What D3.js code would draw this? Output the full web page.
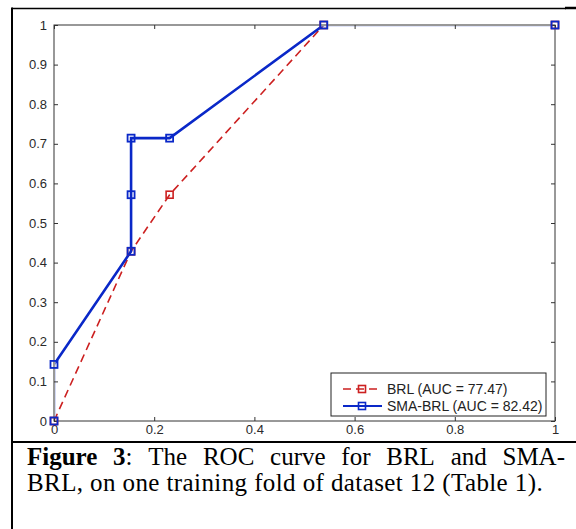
<!DOCTYPE html>
<html>
<head>
<meta charset="utf-8">
<script src="https://cdn.jsdelivr.net/npm/d3@7"></script>
<style>
  body { margin: 0; background: #fff; }
  svg { display: block; }
</style>
</head>
<body>
<script>
// ROC points (false positive rate, true positive rate)
var brlFpr = [0, 2/13, 3/13, 7/13, 1];
var brlTpr = [0, 3/7, 4/7, 1, 1];
var smaFpr = [0, 0, 2/13, 2/13, 2/13, 3/13, 7/13, 1];
var smaTpr = [0, 1/7, 3/7, 4/7, 5/7, 5/7, 1, 1];

var seriesNames = ["BRL (AUC = 77.47)", "SMA-BRL (AUC = 82.42)"];
var xTicks = [0, 0.2, 0.4, 0.6, 0.8, 1];
var yTicks = [0, 0.1, 0.2, 0.3, 0.4, 0.5, 0.6, 0.7, 0.8, 0.9, 1];

var svgWidth = 576;
var svgHeight = 529;

// plot area in page pixels
var margin = { top: 25, left: 54 };
var chartWidth = 501;
var chartHeight = 396;

var red = "#cc2020";
var blue = "#0a28c8";
var sans = "'Liberation Sans', Arial, sans-serif";

var svg = d3.select("body")
  .append("svg")
  .attr("width", svgWidth)
  .attr("height", svgHeight);

// page frame (table cell borders)
svg.append("line").attr("x1", 12).attr("x2", 566).attr("y1", 8.5).attr("y2", 8.5)
  .attr("stroke", "#000").attr("stroke-width", 1.5);
svg.append("line").attr("x1", 565).attr("x2", 576).attr("y1", 8).attr("y2", 8)
  .attr("stroke", "#000").attr("stroke-width", 2.5);
svg.append("line").attr("x1", 12).attr("x2", 12).attr("y1", 7.5).attr("y2", svgHeight)
  .attr("stroke", "#000").attr("stroke-width", 2);
svg.append("line").attr("x1", 12).attr("x2", svgWidth).attr("y1", 442).attr("y2", 442)
  .attr("stroke", "#000").attr("stroke-width", 2);

var chartGroup = svg.append("g")
  .attr("transform", `translate(${margin.left}, ${margin.top})`);

var x = d3.scaleLinear().domain([0, 1]).range([0, chartWidth]);
var y = d3.scaleLinear().domain([0, 1]).range([chartHeight, 0]);

// curves lying on the box edges get hidden under the axes, as in the original
svg.append("clipPath").attr("id", "plotClip")
  .append("rect").attr("x", 1.4).attr("y", 1.4)
  .attr("width", chartWidth - 2.8).attr("height", chartHeight - 2.8);

var drawLine = d3.line()
  .x(d => x(d[0]))
  .y(d => y(d[1]));

var brlData = brlFpr.map((v, i) => [v, brlTpr[i]]);
var smaData = smaFpr.map((v, i) => [v, smaTpr[i]]);

var lines = chartGroup.append("g").attr("clip-path", "url(#plotClip)");

lines.append("path")
  .attr("d", drawLine(brlData))
  .attr("fill", "none")
  .attr("stroke", red)
  .attr("stroke-width", 1.6)
  .attr("stroke-dasharray", "8,5");

lines.append("path")
  .attr("d", drawLine(smaData))
  .attr("fill", "none")
  .attr("stroke", blue)
  .attr("stroke-width", 2.6);

// style tick labels / tick lines of an axis group
function styleAxis(g) {
  g.select(".domain").remove();
  g.selectAll(".tick line").attr("stroke", "#333");
  g.selectAll(".tick text")
    .style("font-family", sans)
    .style("font-size", "13px")
    .attr("fill", "#2a2a2a");
}

// axes box with inward ticks, drawn over the curves
chartGroup.append("g")
  .attr("transform", `translate(0, ${chartHeight})`)
  .call(d3.axisBottom(x).tickValues(xTicks).tickSize(-4).tickPadding(4).tickFormat(d3.format("~g")))
  .call(styleAxis);
chartGroup.append("g")
  .call(d3.axisTop(x).tickValues(xTicks).tickSize(-4).tickFormat(""))
  .call(styleAxis);
chartGroup.append("g")
  .call(d3.axisLeft(y).tickValues(yTicks).tickSize(-4).tickPadding(7).tickFormat(d3.format("~g")))
  .call(styleAxis);
chartGroup.append("g")
  .attr("transform", `translate(${chartWidth}, 0)`)
  .call(d3.axisRight(y).tickValues(yTicks).tickSize(-4).tickFormat(""))
  .call(styleAxis);

chartGroup.append("rect")
  .attr("x", 0).attr("y", 0)
  .attr("width", chartWidth).attr("height", chartHeight)
  .attr("fill", "none")
  .attr("stroke", "#333")
  .attr("stroke-width", 1);

// square markers
var ms = 7;
chartGroup.selectAll(".brlMark")
  .data(brlData)
  .enter()
  .append("rect")
  .attr("class", "brlMark")
  .attr("x", d => x(d[0]) - ms / 2)
  .attr("y", d => y(d[1]) - ms / 2)
  .attr("width", ms).attr("height", ms)
  .attr("fill", "none")
  .attr("stroke", red)
  .attr("stroke-width", 1.6);

chartGroup.selectAll(".smaMark")
  .data(smaData)
  .enter()
  .append("rect")
  .attr("class", "smaMark")
  .attr("x", d => x(d[0]) - ms / 2)
  .attr("y", d => y(d[1]) - ms / 2)
  .attr("width", ms).attr("height", ms)
  .attr("fill", "none")
  .attr("stroke", blue)
  .attr("stroke-width", 1.8);

// legend
var legend = svg.append("g").attr("transform", "translate(331, 373)");
legend.append("rect")
  .attr("width", 215).attr("height", 43)
  .attr("fill", "#fff")
  .attr("stroke", "#222")
  .attr("stroke-width", 1);

var legendStyles = [
  { color: red, width: 1.6, dash: "8,5" },
  { color: blue, width: 2.2, dash: null }
];
seriesNames.forEach(function(name, i) {
  var row = legend.append("g").attr("transform", `translate(0, ${16 + i * 17})`);
  row.append("line")
    .attr("x1", 12).attr("x2", 51)
    .attr("stroke", legendStyles[i].color)
    .attr("stroke-width", legendStyles[i].width)
    .attr("stroke-dasharray", legendStyles[i].dash);
  row.append("rect")
    .attr("x", 31 - ms / 2).attr("y", -ms / 2)
    .attr("width", ms).attr("height", ms)
    .attr("fill", "none")
    .attr("stroke", legendStyles[i].color)
    .attr("stroke-width", 1.6);
  row.append("text")
    .attr("x", 56).attr("dy", "0.35em")
    .style("font-family", sans)
    .style("font-size", "14px")
    .attr("fill", "#222")
    .text(name);
});

// caption, first line justified between the margins
var capFont = "'Liberation Serif', 'Times New Roman', serif";
var capSize = 25;
var capLeft = 27, capRight = 565;
var line1 = [
  [{ t: "Figure", b: true }],
  [{ t: "3", b: true }, { t: ":", b: false }],
  [{ t: "The" }], [{ t: "ROC" }], [{ t: "curve" }], [{ t: "for" }],
  [{ t: "BRL" }], [{ t: "and" }], [{ t: "SMA-" }]
];
var words = line1.map(function(parts) {
  var t = svg.append("text")
    .attr("y", 465)
    .style("font-family", capFont)
    .style("font-size", capSize + "px")
    .attr("fill", "#000");
  parts.forEach(p => t.append("tspan").attr("font-weight", p.b ? "bold" : "normal").text(p.t));
  return t;
});
var widths = words.map(t => t.node().getComputedTextLength());
var gap = (capRight - capLeft - d3.sum(widths)) / (words.length - 1);
var cx = capLeft;
words.forEach(function(t, i) {
  t.attr("x", cx);
  cx += widths[i] + gap;
});

svg.append("text")
  .attr("x", capLeft).attr("y", 491)
  .style("font-family", capFont)
  .style("font-size", capSize + "px")
  .style("letter-spacing", "0.4px")
  .attr("fill", "#000")
  .text("BRL, on one training fold of dataset 12 (Table 1).");
</script>
</body>
</html>
